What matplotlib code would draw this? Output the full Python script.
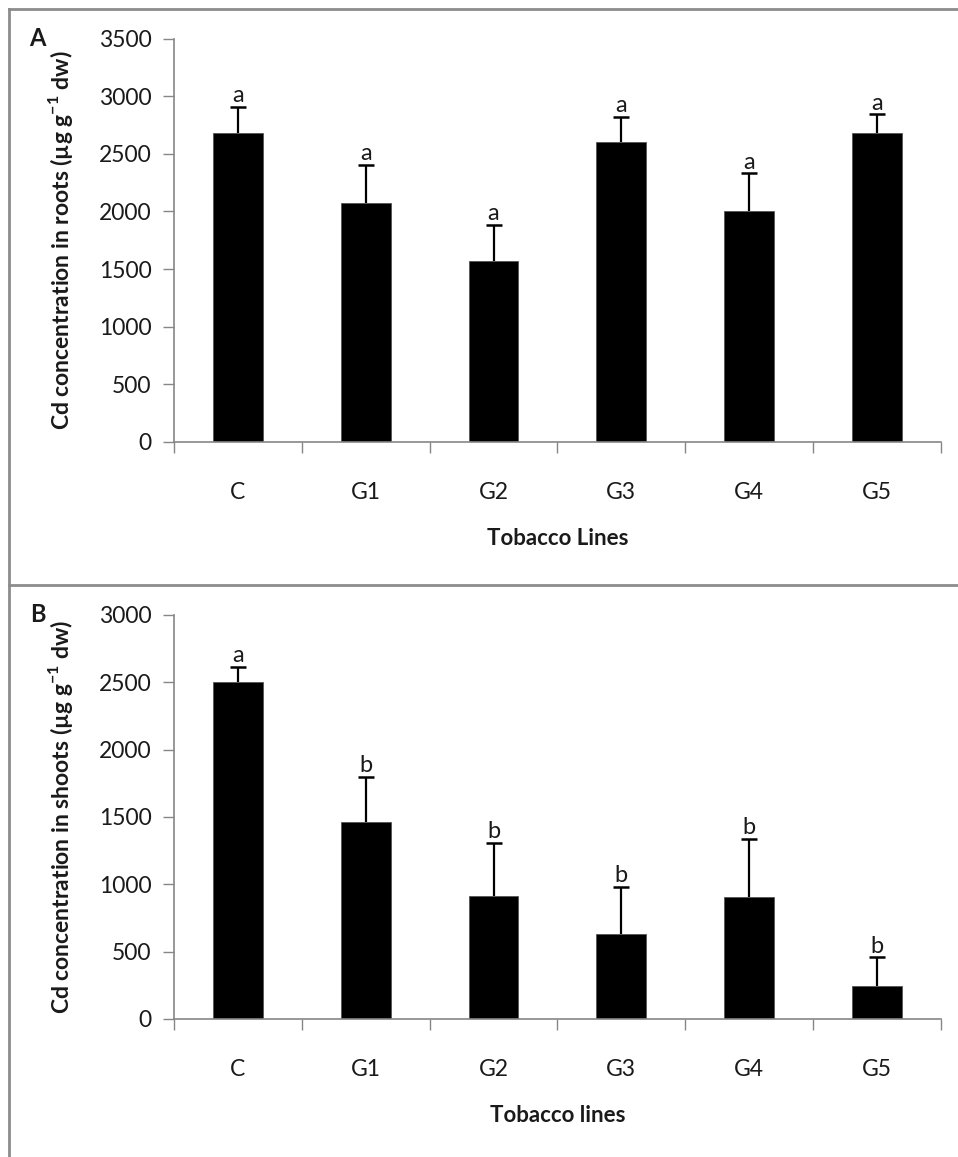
import matplotlib
matplotlib.use("Agg")
import matplotlib.pyplot as plt
from matplotlib.lines import Line2D
import numpy as np

# tobacco lines
lines = ["C", "G1", "G2", "G3", "G4", "G5"]

# panel A: Cd in roots
roots_mean = [2685, 2077, 1572, 2607, 2007, 2685]
roots_err = [225, 327, 310, 217, 325, 160]
roots_letters = ["a", "a", "a", "a", "a", "a"]

# panel B: Cd in shoots
shoots_mean = [2500, 1466, 914, 629, 904, 248]
shoots_err = [116, 330, 396, 354, 431, 210]
shoots_letters = ["a", "b", "b", "b", "b", "b"]

plt.rcParams["font.family"] = ["Lato", "DejaVu Sans"]
plt.rcParams["mathtext.fontset"] = "custom"
plt.rcParams["mathtext.rm"] = "Lato"
plt.rcParams["mathtext.bf"] = "Lato:bold"

axis_grey = "#868686"
text_col = "#1a1a1a"

fig = plt.figure(figsize=(9.58, 11.57), dpi=100)


def draw_panel(ax, means, errs, letters, ymax, ylabel, xlabel, tag):
    x = np.arange(len(lines))
    means = np.array(means)
    tops = means + np.array(errs)
    ax.bar(x, means, width=0.39, color="black", edgecolor="#555555", linewidth=0.6, zorder=2)
    # upper error bars only
    ax.vlines(x, means, tops, color="black", linewidth=1.6, zorder=3)
    ax.plot(x, tops, linestyle="none", marker="_", markersize=12,
            markeredgewidth=1.8, color="black", zorder=3)
    for xi, t, let in zip(x, tops, letters):
        ax.annotate(let, (xi, t), xytext=(0, 0.5), textcoords="offset points",
                    ha="center", va="bottom", fontsize=17, color=text_col)

    ax.set_xlim(-0.5, len(lines) - 0.5)
    ax.set_ylim(0, ymax)
    ax.set_yticks(np.arange(0, ymax + 1, 500))
    ax.set_xticks(x)
    ax.set_xticklabels(lines)
    ax.set_xticks(np.arange(-0.5, len(lines), 1), minor=True)
    ax.tick_params(axis="x", which="major", length=0, pad=29, labelsize=16.5, labelcolor=text_col)
    ax.tick_params(axis="x", which="minor", length=8, width=1, color=axis_grey, direction="out")
    ax.tick_params(axis="y", length=8, width=1, color=axis_grey, pad=8,
                   labelsize=16.5, labelcolor=text_col)

    for s in ["top", "right"]:
        ax.spines[s].set_visible(False)
    for s in ["left", "bottom"]:
        ax.spines[s].set_color(axis_grey)
        ax.spines[s].set_linewidth(1.2)

    ax.set_ylabel(ylabel, fontsize=16.5, fontweight="bold", color=text_col, labelpad=17)
    ax.set_xlabel(xlabel, fontsize=16, fontweight="bold", color=text_col, labelpad=18)
    ax.text(-0.178, 1.0, tag, transform=ax.transAxes, fontsize=17, fontweight="bold",
            ha="center", va="center", color=text_col)


ax1 = fig.add_axes([0.1816, 0.6184, 0.8006, 0.3479])
draw_panel(ax1, roots_mean, roots_err, roots_letters, 3500,
           r"Cd concentration in roots (µg g$^{\mathbf{-1}}$ dw)", "Tobacco Lines", "A")

ax2 = fig.add_axes([0.1816, 0.1193, 0.8006, 0.3492])
draw_panel(ax2, shoots_mean, shoots_err, shoots_letters, 3000,
           r"Cd concentration in shoots (µg g$^{\mathbf{-1}}$ dw)", "Tobacco lines", "B")

# outer frame lines (top, left, divider)
W, H = 958, 1157
border = dict(color="#8c8c8c", linewidth=2, transform=fig.transFigure)
fig.add_artist(Line2D([9 / W, 1], [1 - 9 / H, 1 - 9 / H], **border))
fig.add_artist(Line2D([9 / W, 9 / W], [0, 1 - 9 / H], **border))
fig.add_artist(Line2D([9 / W, 1], [1 - 585 / H, 1 - 585 / H], **border))

fig.savefig("out.png", dpi=100)
